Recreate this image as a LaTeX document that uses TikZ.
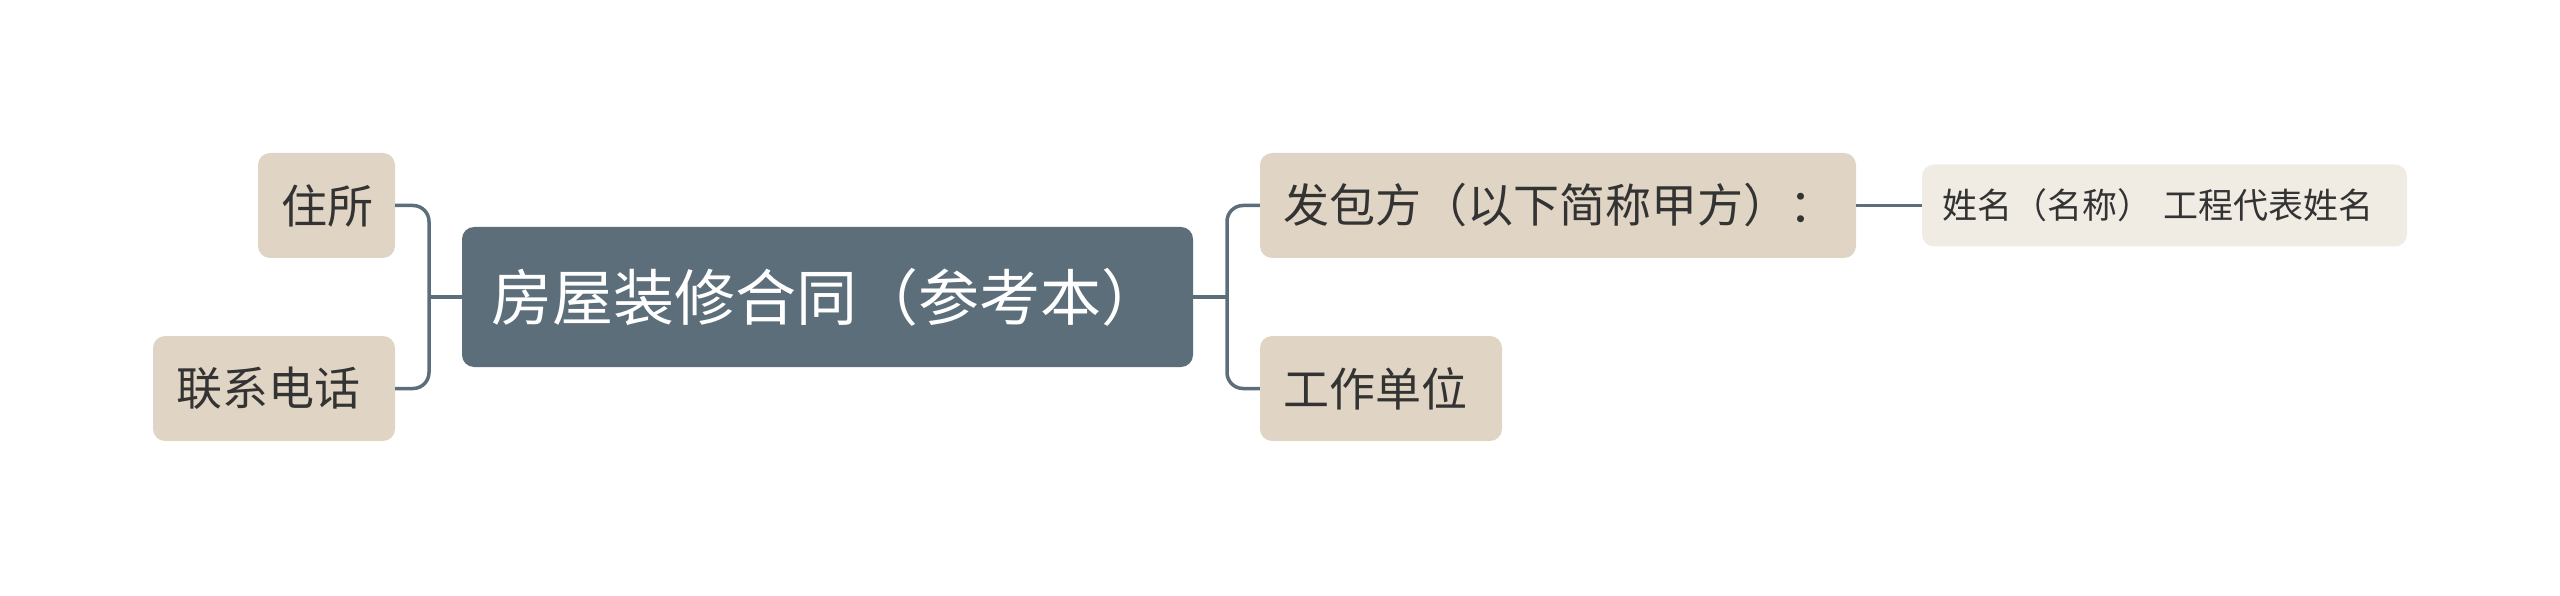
\documentclass[tikz,border=0pt]{standalone}
\usepackage{fontspec}
\newfontfamily\cjk{Noto Sans CJK SC}
\definecolor{rootfill}{HTML}{5C6E7A}
\definecolor{subfill}{HTML}{E0D5C4}
\definecolor{leaffill}{HTML}{F0ECE4}
\definecolor{linkcol}{HTML}{5C6E7A}
\definecolor{txtcol}{HTML}{333333}
\begin{document}
\begin{tikzpicture}[x=1pt, y=-1pt,
    rootbox/.style={fill=rootfill, rounded corners=12pt, inner xsep=29pt, inner ysep=0pt, text=white,
        align=left, text width=673pt, minimum height=140pt, font=\cjk\fontsize{61}{63}\selectfont},
    subbox/.style={fill=subfill, rounded corners=12pt, inner xsep=23pt, inner ysep=0pt, text=txtcol,
        align=left, minimum height=105pt, font=\cjk\fontsize{46}{48}\selectfont},
    leafbox/.style={fill=leaffill, rounded corners=12pt, inner xsep=20pt, inner ysep=0pt, text=txtcol,
        align=left, minimum height=82pt, font=\cjk\fontsize{35}{37}\selectfont},
    link/.style={draw=linkcol, line width=3.5pt, rounded corners=16pt}]
    \useasboundingbox (0,0) rectangle (2560,596);
    % central topic
    \node[rootbox] (root) at (827.5,297) {房屋装修合同（参考本）};
    % left side
    \node[subbox, text width=91pt] (zhusuo) at (326.5,205.5) {住所};
    \node[subbox, text width=196pt] (dianhua) at (274,388.5) {联系电话};
    % right side
    \node[subbox, text width=550pt] (fabao) at (1558,205.5) {发包方（以下简称甲方）：};
    \node[subbox, text width=196pt] (danwei) at (1381,388.5) {工作单位};
    \node[leafbox, text width=445pt] (xingming) at (2164.5,205.5) {姓名（名称） 工程代表姓名};
    % connectors
    \coordinate (lj) at (429,297);
    \coordinate (rj) at (1227,297);
    \draw[link] (root.west) -- (lj);
    \draw[link] (zhusuo.east) -| (lj) |- (dianhua.east);
    \draw[link] (root.east) -- (rj);
    \draw[link] (fabao.west) -| (rj) |- (danwei.west);
    \draw[link] (fabao.east) -- (xingming.west);
\end{tikzpicture}
\end{document}
